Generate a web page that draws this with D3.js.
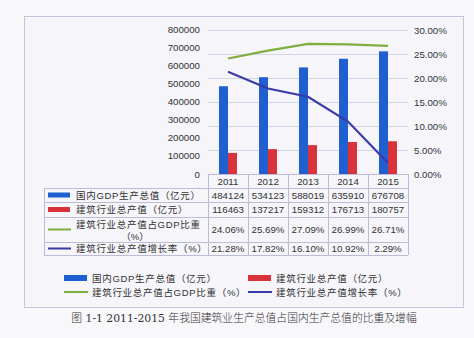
<!DOCTYPE html>
<html><head><meta charset="utf-8">
<script src="https://cdn.jsdelivr.net/npm/d3@7/dist/d3.min.js"></script>
<style>
html,body{margin:0;padding:0;background:#f8f7fa;}
svg{display:block;}
</style></head>
<body>
<svg id="c" width="474" height="338"></svg>
<script>
const years = ["2011","2012","2013","2014","2015"];
const gdp = [484124, 534123, 588019, 635910, 676708];
const construction = [116463, 137217, 159312, 176713, 180757];
const share = [0.2406, 0.2569, 0.2709, 0.2699, 0.2671];
const growth = [0.2128, 0.1782, 0.1610, 0.1092, 0.0229];
const leftTicks = [0,100000,200000,300000,400000,500000,600000,700000,800000];
const rightTicks = [0,0.05,0.10,0.15,0.20,0.25,0.30];
const seriesNames = ["国内GDP生产总值（亿元）","建筑行业总产值（亿元）","建筑行业总产值占GDP比重（%）","建筑行业总产值增长率（%）"];
const tableLabels = [["国内GDP生产总值（亿元）"],["建筑行业总产值（亿元）"],["建筑行业总产值占GDP比重","（%）"],["建筑行业总产值增长率（%）"]];
const caption = "图 1-1 2011-2015 年我国建筑业生产总值占国内生产总值的比重及增幅";

const colors = {gdp:"#1f5fd0", con:"#d8323a", share:"#7fae3e", growth:"#3a3aa8"};
const font = "'Liberation Sans','Noto Sans CJK SC',sans-serif";
const svg = d3.select("#c");

// chart frame
svg.append("rect").attr("x",24.5).attr("y",16.5).attr("width",439).attr("height",291)
  .attr("fill","#f5f5fa").attr("stroke","#c4c6dc").attr("stroke-width",1);

const x = d3.scaleBand().domain(years).range([208,408]);
const yL = d3.scaleLinear().domain([0,800000]).range([174,29]);
const yR = d3.scaleLinear().domain([0,0.30]).range([174,30]);

// gridlines (right axis)
svg.append("g").selectAll("line").data(rightTicks.slice(1)).join("line")
  .attr("x1",208).attr("x2",408).attr("y1",d=>Math.round(yR(d))+0.5).attr("y2",d=>Math.round(yR(d))+0.5)
  .attr("stroke","#d3d6ea").attr("stroke-width",1);

// left axis
const gl = svg.append("g").attr("transform","translate(203,0)")
  .call(d3.axisLeft(yL).tickValues(leftTicks).tickSize(0).tickFormat(d3.format("d")));
gl.select(".domain").remove();
gl.selectAll("text").attr("font-family",font).attr("font-size","9.7px").attr("fill","#333");

// right axis
const gr = svg.append("g").attr("transform","translate(411,0)")
  .call(d3.axisRight(yR).tickValues(rightTicks).tickSize(0).tickFormat(d3.format(".2%")));
gr.select(".domain").remove();
gr.selectAll("text").attr("font-family",font).attr("font-size","9.7px").attr("fill","#333");

// bars
const bw = 9;
svg.append("g").selectAll("rect").data(gdp).join("rect")
  .attr("x",(d,i)=>x(years[i])+x.bandwidth()/2-bw).attr("width",bw)
  .attr("y",d=>yL(d)).attr("height",d=>yL(0)-yL(d)).attr("fill",colors.gdp);
svg.append("g").selectAll("rect").data(construction).join("rect")
  .attr("x",(d,i)=>x(years[i])+x.bandwidth()/2).attr("width",bw)
  .attr("y",d=>yL(d)).attr("height",d=>yL(0)-yL(d)).attr("fill",colors.con);

// lines
const line = d3.line().x((d,i)=>x(years[i])+x.bandwidth()/2).y(d=>yR(d));
svg.append("path").datum(share).attr("d",line).attr("fill","none").attr("stroke",colors.share).attr("stroke-width",2.2);
svg.append("path").datum(growth).attr("d",line).attr("fill","none").attr("stroke",colors.growth).attr("stroke-width",2.2);

// data table
const rowsY = [174,188,202,217,242,255];
const gridC = "#b9bdd8";
const tg = svg.append("g");
tg.append("line").attr("x1",208).attr("x2",408).attr("y1",174.5).attr("y2",174.5).attr("stroke",gridC);
rowsY.slice(1).forEach(yv=>{
  tg.append("line").attr("x1",44).attr("x2",408).attr("y1",yv+0.5).attr("y2",yv+0.5).attr("stroke",gridC);
});
tg.append("line").attr("x1",44.5).attr("x2",44.5).attr("y1",188).attr("y2",255).attr("stroke",gridC);
x.domain().forEach(yr=>{
  tg.append("line").attr("x1",x(yr)+0.5).attr("x2",x(yr)+0.5).attr("y1",174).attr("y2",255).attr("stroke",gridC);
});
tg.append("line").attr("x1",408.5).attr("x2",408.5).attr("y1",174).attr("y2",255).attr("stroke",gridC);

tg.selectAll("text.yr").data(years).join("text").attr("class","yr")
  .attr("x",d=>x(d)+x.bandwidth()/2).attr("y",185).attr("text-anchor","middle")
  .attr("font-family",font).attr("font-size","9.7px").attr("fill","#333").text(d=>d);

const fmtP = d3.format(".2%");
const tableVals = [gdp.map(String), construction.map(String), share.map(fmtP), growth.map(fmtP)];
const keyTypes = ["bar","bar","line","line"];
const keyColors = [colors.gdp, colors.con, colors.share, colors.growth];
tableVals.forEach((vals,r)=>{
  const y0 = rowsY[r+1], y1 = rowsY[r+2], cy = (y0+y1)/2;
  vals.forEach((v,i)=>{
    tg.append("text").attr("x",x(years[i])+x.bandwidth()/2).attr("y",cy+3.5).attr("text-anchor","middle")
      .attr("font-family",font).attr("font-size","9.7px").attr("fill","#333").text(v);
  });
  if(keyTypes[r]==="bar"){
    tg.append("rect").attr("x",48).attr("y",cy-2.5).attr("width",22).attr("height",5).attr("fill",keyColors[r]);
  } else {
    tg.append("line").attr("x1",48).attr("x2",71).attr("y1",cy).attr("y2",cy).attr("stroke",keyColors[r]).attr("stroke-width",2);
  }
  const lab = tableLabels[r];
  if(lab.length===1){
    tg.append("text").attr("x",76).attr("y",cy+3.5).attr("font-family",font).attr("font-size","9.5px")
      .attr("fill","#333").attr("letter-spacing","0.7px").text(lab[0]);
  } else {
    tg.append("text").attr("x",76).attr("y",cy-2).attr("font-family",font).attr("font-size","9.5px")
      .attr("fill","#333").attr("letter-spacing","0.7px").text(lab[0]);
    tg.append("text").attr("x",135).attr("y",cy+10).attr("text-anchor","middle").attr("font-family",font).attr("font-size","9.5px")
      .attr("fill","#333").text(lab[1]);
  }
});

// legend
const lg = svg.append("g");
const legPos = [[64,278],[248,278],[64,292],[248,292]];
seriesNames.forEach((n,i)=>{
  const [lx,ly] = legPos[i];
  if(keyTypes[i]==="bar"){
    lg.append("rect").attr("x",lx).attr("y",ly-3).attr("width",23).attr("height",6).attr("fill",keyColors[i]);
  } else {
    lg.append("line").attr("x1",lx).attr("x2",lx+24).attr("y1",ly).attr("y2",ly).attr("stroke",keyColors[i]).attr("stroke-width",2);
  }
  lg.append("text").attr("x",lx+28).attr("y",ly+3.5).attr("font-family",font).attr("font-size","9.5px")
    .attr("fill","#333").attr("letter-spacing","0.7px").text(n);
});

// caption
svg.append("text").attr("x",244).attr("y",322).attr("text-anchor","middle")
  .attr("font-family","'DejaVu Serif','Liberation Serif','Noto Sans CJK SC',serif").attr("font-size","10.8px")
  .attr("font-weight","300").attr("fill","#333").text(caption);
</script>
</body></html>
